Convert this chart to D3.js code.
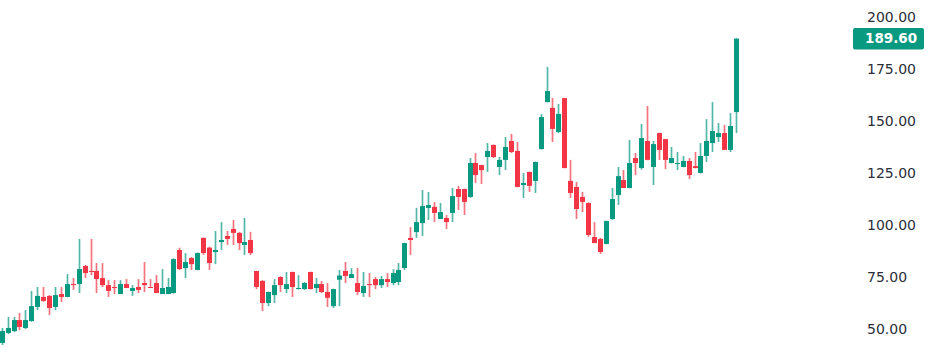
<!DOCTYPE html>
<meta charset="utf-8">
<script src="https://d3js.org/d3.v7.min.js"></script>
<style>
	body { margin: 0; background: #fff; }
	.tick-label { font: 14px "DejaVu Sans", sans-serif; fill: #2a2e39; }
	.last-label { font: bold 13.5px "DejaVu Sans", sans-serif; fill: #fff; }
</style>
<body>
	<div id="chart"></div>
</body>
<script>
	const width = 940, height = 359;

	// OHLC values, one entry per session
	const opens = [43.3,48.1,49.0,54.3,50.5,53.8,60.6,65.4,65.9,60.6,
		66.8,65.4,71.6,71.6,80.3,77.9,77.9,74.5,71.1,70.2,
		66.8,71.6,68.3,70.2,72.1,70.2,72.1,66.8,66.8,67.3,
		88.0,79.3,84.1,78.4,93.8,89.1,87.0,91.8,94.7,98.1,
		96.2,90.4,92.8,77.9,73.1,62.5,66.3,75.0,69.2,77.4,
		69.2,69.2,77.4,69.7,71.6,67.8,61.0,73.7,77.9,74.5,
		72.1,67.3,71.6,74.0,71.1,74.0,72.1,72.6,79.3,93.8,
		96.6,100.9,108.2,108.7,102.9,103.4,105.8,117.3,117.3,113.5,
		129.8,128.8,132.7,138.5,127.9,131.3,140.4,135.6,119.2,125.5,
		121.2,136.5,159.1,156.3,144.7,161.0,121.2,118.3,113.5,110.6,
		94.2,93.3,90.9,102.9,114.4,121.6,117.8,132.2,127.4,140.4,
		127.9,144.2,141.3,129.8,129.3,127.9,130.8,128.3,125.0,133.2,
		139.4,142.3,144.2,136.1,154.3];
	const highs = [50.5,55.8,55.8,57.7,59.1,68.3,70.2,70.2,66.3,70.2,
		70.2,76.4,74.5,93.3,80.8,93.3,81.7,81.7,73.5,73.5,
		73.5,74.0,71.1,74.0,82.2,74.0,75.9,78.8,74.5,84.0,
		89.1,86.5,84.6,86.8,94.0,89.6,97.1,101.4,97.1,102.4,
		96.7,103.4,96.7,78.0,73.5,68.0,74.0,75.4,77.4,77.6,
		75.9,72.6,77.6,74.5,73.1,72.1,69.4,78.4,82.2,79.3,
		79.3,77.4,76.9,75.0,75.5,76.9,78.8,81.7,91.5,99.0,
		108.2,116.8,115.9,111.1,110.6,104.8,117.8,118.8,117.5,132.2,
		134.6,129.0,139.4,138.7,132.7,142.3,143.8,139.9,125.0,125.7,
		130.5,153.3,176.0,161.1,158.2,161.2,131.3,120.7,115.9,110.8,
		101.4,93.8,102.1,117.8,127.9,126.4,140.9,134.6,148.6,157.2,
		140.4,144.4,141.5,137.5,135.1,133.2,132.2,135.1,139.4,150.9,
		159.1,149.0,148.1,153.8,189.8];
	const lows = [42.3,47.6,48.5,49.5,50.0,53.5,59.1,63.0,56.7,59.1,
		63.0,65.2,68.8,67.3,74.5,75.9,67.3,70.2,65.4,66.8,
		66.8,69.7,65.9,67.3,67.8,69.7,67.3,66.8,66.8,67.0,
		78.4,74.5,78.4,78.2,85.7,78.4,81.2,88.0,90.4,90.4,
		88.0,85.6,85.6,69.2,58.6,61.0,62.5,67.8,67.3,65.4,
		69.0,68.8,69.0,67.3,67.3,60.6,60.1,61.0,72.1,74.5,
		66.3,65.4,65.4,69.2,69.7,70.2,71.1,71.1,78.4,85.6,
		93.8,94.7,102.4,101.4,102.9,98.1,101.4,107.2,104.8,113.0,
		120.2,119.7,125.5,132.2,124.0,126.4,134.6,118.1,113.0,115.9,
		115.4,136.3,158.9,139.9,144.2,127.2,113.0,102.9,106.2,94.3,
		91.3,86.1,90.7,102.4,109.6,117.8,117.6,124.0,126.6,131.1,
		119.2,131.3,126.9,129.6,126.4,127.7,122.1,127.2,124.8,130.3,
		135.1,139.9,136.0,135.1,144.2];
	const closes = [49.0,50.5,54.3,51.0,54.3,61.0,65.9,63.5,60.1,66.3,
		65.4,71.6,71.1,78.8,76.9,77.4,74.0,71.1,68.3,69.7,
		71.6,69.7,69.7,68.8,71.1,69.7,67.3,69.7,70.2,83.6,
		78.8,82.2,81.2,86.5,86.5,81.7,88.0,92.8,93.3,96.2,
		91.3,91.8,86.5,70.2,62.5,67.8,71.1,71.1,71.6,70.2,
		69.7,72.1,69.2,71.6,67.8,65.0,69.2,75.7,75.5,76.4,
		67.8,70.7,71.1,71.1,74.0,72.6,76.9,78.4,91.3,92.8,
		101.4,109.1,109.6,105.8,106.2,101.4,113.9,113.5,111.1,129.8,
		124.0,126.4,135.6,132.7,131.3,137.5,135.1,118.3,120.2,118.8,
		130.3,151.9,164.4,146.2,153.4,127.4,115.4,107.7,111.1,95.2,
		91.3,87.0,101.9,112.5,123.5,117.8,129.8,129.8,141.8,131.3,
		138.9,136.1,131.3,132.2,129.8,130.8,124.0,127.4,133.2,140.4,
		145.2,144.2,136.1,147.6,189.6];
	const yTicks = [50, 75, 100, 125, 150, 175, 200];
	const lastPrice = 189.60;

	const up = "#089981", down = "#f23645";

	const candles = d3.range(opens.length).map(i => ({
		i: i, o: opens[i], h: highs[i], l: lows[i], c: closes[i]
	}));

	const svg = d3.select("#chart").append("svg")
		.attr("width", width)
		.attr("height", height);

	const x = d3.scaleLinear()
		.domain([0, candles.length - 1])
		.range([1.7, 736]);

	const y = d3.scaleLinear()
		.domain([50, 200])
		.range([329, 17]);

	const bodyW = 5;

	const g = svg.append("g");

	// wicks
	g.selectAll(".wick")
		.data(candles)
		.enter().append("line")
		.attr("class", "wick")
		.attr("x1", d => Math.round(x(d.i)) + 0.5)
		.attr("x2", d => Math.round(x(d.i)) + 0.5)
		.attr("y1", d => y(d.h))
		.attr("y2", d => y(d.l))
		.attr("stroke", d => d.c >= d.o ? up : down)
		.attr("stroke-opacity", 0.7)
		.attr("stroke-width", 1.7);

	// bodies
	g.selectAll(".body")
		.data(candles)
		.enter().append("rect")
		.attr("class", "body")
		.attr("x", d => Math.round(x(d.i)) + 0.5 - bodyW / 2)
		.attr("y", d => y(Math.max(d.o, d.c)))
		.attr("width", bodyW)
		.attr("height", d => Math.max(1, Math.abs(y(d.o) - y(d.c))))
		.attr("fill", d => d.c >= d.o ? up : down);

	// price axis on the right
	const axis = svg.append("g");
	axis.selectAll("text")
		.data(yTicks)
		.enter().append("text")
		.attr("class", "tick-label")
		.attr("x", 867)
		.attr("y", d => y(d))
		.attr("dy", "0.36em")
		.text(d => d3.format(".2f")(d));

	// last price tag
	const ly = y(lastPrice);
	axis.append("rect")
		.attr("x", 853)
		.attr("y", ly - 10.7)
		.attr("width", 71)
		.attr("height", 21.5)
		.attr("rx", 2)
		.attr("fill", up);
	axis.append("text")
		.attr("class", "last-label")
		.attr("x", 865)
		.attr("y", ly)
		.attr("dy", "0.36em")
		.text(d3.format(".2f")(lastPrice));
</script>
